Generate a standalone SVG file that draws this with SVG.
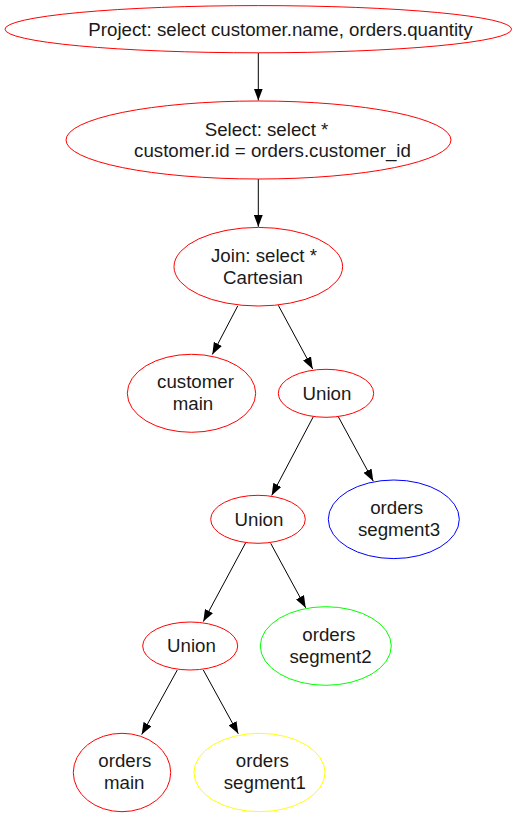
<svg xmlns="http://www.w3.org/2000/svg" width="516" height="817" viewBox="0 0 516 817">
<style>
ellipse{fill:none;stroke-width:1}
.r{stroke:#ff0000}.b{stroke:#0000ff}.g{stroke:#00ff00}.y{stroke:#ffff00}
text{font-family:"Liberation Sans",Arial,sans-serif;font-size:18.7px;fill:#1a1a1a;text-anchor:middle}
.e{stroke:#000;stroke-width:1;fill:none;marker-end:url(#ah)}
</style>
<defs>
<marker id="ah" viewBox="0 0 12 9" refX="12" refY="4.5" markerWidth="12" markerHeight="9" markerUnits="userSpaceOnUse" orient="auto">
<path d="M0,0 L12,4.5 L0,9 z" fill="#000"/>
</marker>
</defs>
<rect width="516" height="817" fill="#fff"/>
<g id="edges">
<path class="e" d="M258.3,53 L258.3,100.5"/>
<path class="e" d="M258.3,179 L258.3,226.8"/>
<path class="e" d="M237.7,306 L212.3,354.5"/>
<path class="e" d="M278.3,305.3 L312.7,369"/>
<path class="e" d="M313.3,416.7 L271.7,495.5"/>
<path class="e" d="M338.3,416.7 L373.3,481.2"/>
<path class="e" d="M245.7,542.7 L203.3,621.6"/>
<path class="e" d="M270.7,543.3 L305.7,607.8"/>
<path class="e" d="M177.3,670 L141.7,734.6"/>
<path class="e" d="M203.3,670 L238.3,733.8"/>
</g>
<g id="project">
<ellipse class="r" cx="258.3" cy="29.2" rx="253.3" ry="23.6"/>
<text x="280.5" y="36">Project: select customer.name, orders.quantity</text>
</g>
<g id="select">
<ellipse class="r" cx="258.5" cy="140" rx="192.5" ry="39"/>
<text x="266.5" y="135.5">Select: select *</text>
<text x="272.5" y="156.5">customer.id = orders.customer_id</text>
</g>
<g id="join">
<ellipse class="r" cx="258.3" cy="266.7" rx="84.3" ry="39.3"/>
<text x="264" y="261.7">Join: select *</text>
<text x="263" y="283.5">Cartesian</text>
</g>
<g id="customer_main">
<ellipse class="r" cx="191.5" cy="393.3" rx="64.2" ry="39"/>
<text x="195.5" y="388.3">customer</text>
<text x="193" y="410">main</text>
</g>
<g id="union1">
<ellipse class="r" cx="326" cy="393.3" rx="47.7" ry="24"/>
<text x="327" y="399.5">Union</text>
</g>
<g id="union2">
<ellipse class="r" cx="258" cy="519.3" rx="47.3" ry="24"/>
<text x="259" y="526">Union</text>
</g>
<g id="orders_segment3">
<ellipse class="b" cx="393.8" cy="519.3" rx="65.5" ry="39.3"/>
<text x="396.7" y="514">orders</text>
<text x="399" y="535.5">segment3</text>
</g>
<g id="union3">
<ellipse class="r" cx="190.2" cy="646" rx="47.5" ry="24"/>
<text x="191.5" y="652.3">Union</text>
</g>
<g id="orders_segment2">
<ellipse class="g" cx="325.8" cy="646" rx="65.5" ry="39.3"/>
<text x="328.8" y="641">orders</text>
<text x="330.5" y="662.5">segment2</text>
</g>
<g id="orders_main">
<ellipse class="r" cx="122" cy="772.5" rx="48.7" ry="39.2"/>
<text x="124.8" y="767.3">orders</text>
<text x="124.2" y="789.3">main</text>
</g>
<g id="orders_segment1">
<ellipse class="y" cx="259.5" cy="772.5" rx="65.5" ry="39.2"/>
<text x="262.3" y="767.3">orders</text>
<text x="264.8" y="789">segment1</text>
</g>
</svg>
